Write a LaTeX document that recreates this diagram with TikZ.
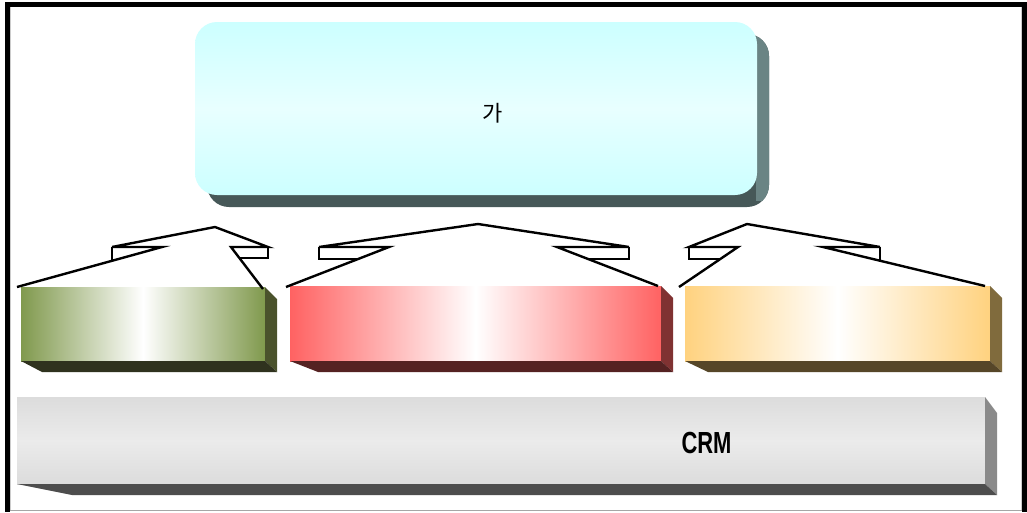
\documentclass[tikz,border=0pt]{standalone}
\usepackage{fontspec}
\setmainfont{Liberation Sans}
\newfontfamily\krfont{Noto Sans CJK KR}
\usetikzlibrary{calc}

\definecolor{topEdge}{HTML}{CCFFFF}
\definecolor{topMid}{HTML}{E8FFFF}
\definecolor{topShadeDark}{HTML}{465858}
\definecolor{topShadeLight}{HTML}{6A8484}
\definecolor{gEdge}{HTML}{80994D}
\definecolor{gSide}{HTML}{4A522C}
\definecolor{gBase}{HTML}{2F321E}
\definecolor{rEdge}{HTML}{FF6262}
\definecolor{rSide}{HTML}{803232}
\definecolor{rBase}{HTML}{552222}
\definecolor{oEdge}{HTML}{FFD27F}
\definecolor{oSide}{HTML}{806B3D}
\definecolor{oBase}{HTML}{564628}
\definecolor{cEdge}{HTML}{DCDCDC}
\definecolor{cMid}{HTML}{EBEBEB}
\definecolor{cSide}{HTML}{8A8A8A}
\definecolor{cBase}{HTML}{4D4D4D}

\begin{document}
\begin{tikzpicture}[x=1pt,y=-1pt,
  face/.style={inner sep=0pt, outer sep=0pt, anchor=north west},
  callout/.style={line width=2.4pt, line join=miter, line cap=butt, black},
  slab/.style 2 args={face, left color=#1, right color=#1, middle color=white, minimum width=#2},
]
\useasboundingbox (0,0) rectangle (1027,512);
\fill[white] (0,0) rectangle (1027,512);

% outer frame
\draw[line width=5pt] (5,4.5) -- (1027,4.5);
\draw[line width=5pt] (7.5,2) -- (7.5,512);
\draw[line width=5pt] (1024.5,2) -- (1024.5,512);
\draw[gray!70, line width=1pt] (10,510.5) -- (1022,510.5);
\draw[gray!40, line width=0.8pt] (10.5,7) -- (10.5,510);
\draw[gray!40, line width=0.8pt] (1021.5,7) -- (1021.5,510);

% top rounded panel with its drop shadow
\fill[topShadeDark, rounded corners=22pt] (207,34) rectangle (769,207);
\begin{scope}
  \clip (756,0) rectangle (780,200);
  \fill[topShadeLight, rounded corners=22pt] (207,34) rectangle (769,207);
\end{scope}
\node[face, rounded corners=22pt, top color=topEdge, bottom color=topEdge, middle color=topMid,
      minimum width=562pt, minimum height=173pt] (top) at (195,22) {};
\node[font=\krfont\fontsize{22}{22}\selectfont] (toplabel) at (493,113) {가};

% three coloured slabs
\node[slab={gEdge}{244pt}, minimum height=74pt] (green) at (21,287) {};
\node[slab={rEdge}{371pt}, minimum height=75pt] (red) at (290,286) {};
\node[slab={oEdge}{305pt}, minimum height=75pt] (orange) at (685,286) {};

\fill[gSide] (green.north east) -- ++(12,12) -- ($(green.south east)+(12,11)$) -- (green.south east) -- cycle;
\fill[gBase] (green.south west) -- (green.south east) -- ++(12,11) -- ($(green.south west)+(21,11)$) -- cycle;
\fill[rSide] (red.north east) -- ++(12,12) -- ($(red.south east)+(12,11)$) -- (red.south east) -- cycle;
\fill[rBase] (red.south west) -- (red.south east) -- ++(12,11) -- ($(red.south west)+(28,11)$) -- cycle;
\fill[oSide] (orange.north east) -- ++(12,12) -- ($(orange.south east)+(12,11)$) -- (orange.south east) -- cycle;
\fill[oBase] (orange.south west) -- (orange.south east) -- ++(12,11) -- ($(orange.south west)+(23,11)$) -- cycle;

% CRM base slab
\node[face, top color=cEdge, bottom color=cEdge, middle color=cMid,
      minimum width=968pt, minimum height=87pt] (crm) at (17,397) {};
\fill[cSide] (crm.north east) -- ++(12,16) -- ($(crm.south east)+(12,11)$) -- (crm.south east) -- cycle;
\fill[cBase] (crm.south west) -- (crm.south east) -- ++(12,11) -- ($(crm.south west)+(55,11)$) -- cycle;
\node[font=\bfseries\fontsize{30.5}{30.5}\selectfont] (crmlabel) at (706.5,443) {\scalebox{0.72}[1]{CRM}};

% callout frames above the slabs
\coordinate (P1) at (215,227);
\coordinate (L1o) at (112,247); \coordinate (L1t) at (162,247); \coordinate (L1b) at (112,261);
\coordinate (L1e) at (17,287);
\coordinate (R1o) at (268,247); \coordinate (R1t) at (231,247); \coordinate (R1b) at (268,258);
\coordinate (R1i) at (239,258); \coordinate (R1e) at (263,289);

\coordinate (P2) at (478,224);
\coordinate (L2o) at (319,247); \coordinate (L2t) at (389,247); \coordinate (L2b) at (319,259);
\coordinate (L2i) at (359,259); \coordinate (L2e) at (286,287);
\coordinate (R2o) at (629,247); \coordinate (R2t) at (557,247); \coordinate (R2b) at (629,259);
\coordinate (R2i) at (588,259); \coordinate (R2e) at (658,286);

\coordinate (P3) at (747,224);
\coordinate (L3o) at (689,247); \coordinate (L3t) at (738,247); \coordinate (L3b) at (689,259);
\coordinate (L3i) at (720,259); \coordinate (L3e) at (679,287);
\coordinate (R3o) at (880,247); \coordinate (R3t) at (823,247); \coordinate (R3b) at (880,261);
\coordinate (R3e) at (985,286);

\draw[callout] (L1e) -- (L1t) -- (L1o) -- (P1) -- (R1o) -- (R1t) -- (R1e);
\draw[callout] (L1o) -- (L1b);
\draw[callout] (R1o) -- (R1b) -- (R1i);

\draw[callout] (L2e) -- (L2t) -- (L2o) -- (P2) -- (R2o) -- (R2t) -- (R2e);
\draw[callout] (L2o) -- (L2b) -- (L2i);
\draw[callout] (R2o) -- (R2b) -- (R2i);

\draw[callout] (L3e) -- (L3t) -- (L3o) -- (P3) -- (R3o) -- (R3t) -- (R3e);
\draw[callout] (L3o) -- (L3b) -- (L3i);
\draw[callout] (R3o) -- (R3b);
\end{tikzpicture}
\end{document}
